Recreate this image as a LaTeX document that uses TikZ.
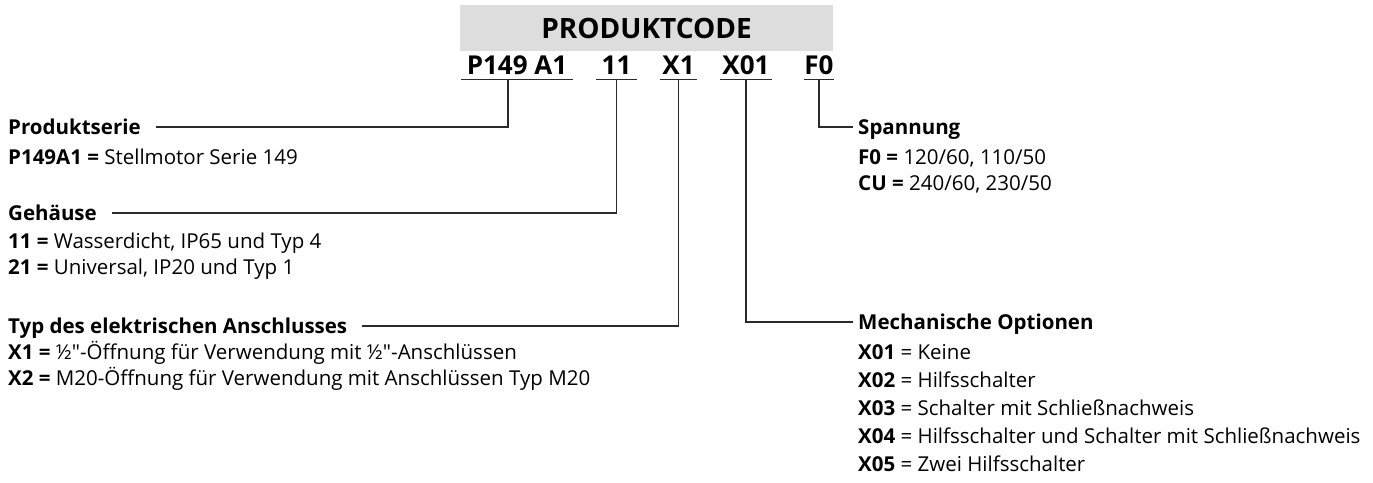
\documentclass[tikz,border=0pt]{standalone}
\usepackage{fontspec}
\setmainfont[Ligatures=TeXOff]{Open Sans}
\usetikzlibrary{positioning}
\definecolor{boxgray}{HTML}{DCDDDC}
\definecolor{linegray}{HTML}{2A2A2A}

\begin{document}
\begin{tikzpicture}[x=1pt, y=-1pt,
    code/.style={font=\fontsize{26}{30}\selectfont\bfseries, text height=18.5pt, text depth=0pt, inner xsep=0pt, inner ysep=5pt, anchor=base},
    head/.style={font=\fontsize{20.5}{24}\selectfont\bfseries, text height=14.5pt, text depth=0pt, inner sep=0pt, anchor=west},
    item/.style={font=\fontsize{20.5}{24}\selectfont, text height=14.5pt, text depth=0pt, inner sep=0pt, anchor=west},
    link/.style={draw=linegray, line width=1.3pt}]
            \useasboundingbox (0,0) rectangle (1373,482);

            \node[fill=boxgray, minimum width=373pt, minimum height=46pt, font=\fontsize{28}{32}\selectfont\bfseries] (Title) at (646.5,28) {PRODUKTCODE};

            \node[code, minimum width=112pt] (CodeP) at (517,74) {P149 A1};
            \node[code, minimum width=41pt] (CodeG) at (616.5,74) {11};
            \node[code, minimum width=37pt] (CodeA) at (678.5,74) {X1};
            \node[code, minimum width=52pt] (CodeM) at (746,74) {X01};
            \node[code, minimum width=28pt] (CodeS) at (819,74) {F0};
            \foreach \c in {CodeP, CodeG, CodeA, CodeM, CodeS}
                \draw[link] (\c.south west) -- (\c.south east);

            % left column
            \node[head] (Serie) at (8,127) {Produktserie};
            \node[item] (SerieA) at (8,157) {\textbf{P149A1 =} Stellmotor Serie 149};

            \node[head] (Gehaeuse) at (8,213) {Gehäuse};
            \node[item] (GehaeuseA) at (8,241) {\textbf{11 =} Wasserdicht, IP65 und Typ 4};
            \node[item] (GehaeuseB) at (8,267) {\textbf{21 =} Universal, IP20 und Typ 1};

            \node[head] (Anschluss) at (8,326) {Typ des elektrischen Anschlusses};
            \node[item] (AnschlussA) at (8,352) {\textbf{X1 =} ½"-Öffnung für Verwendung mit ½"-Anschlüssen};
            \node[item] (AnschlussB) at (8,378) {\textbf{X2 =} M20-Öffnung für Verwendung mit Anschlüssen Typ M20};

            % right column
            \node[head] (Spannung) at (858,127) {Spannung};
            \node[item] (SpannungA) at (858,157) {\textbf{F0 =} 120/60, 110/50};
            \node[item] (SpannungB) at (858,183) {\textbf{CU =} 240/60, 230/50};

            \node[head] (Mech) at (858,322) {Mechanische Optionen};
            \node[item] (MechA) at (858,352) {\textbf{X01} = Keine};
            \node[item] (MechB) at (858,380) {\textbf{X02} = Hilfsschalter};
            \node[item] (MechC) at (858,408) {\textbf{X03} = Schalter mit Schließnachweis};
            \node[item] (MechD) at (858,436) {\textbf{X04} = Hilfsschalter und Schalter mit Schließnachweis};
            \node[item] (MechE) at (858,464) {\textbf{X05} = Zwei Hilfsschalter};

            \draw[link] ([xshift=15pt]Serie.east) -| ([xshift=-9pt]CodeP.south);
            \draw[link] ([xshift=15pt]Gehaeuse.east) -| (CodeG.south);
            \draw[link] ([xshift=15pt]Anschluss.east) -| (CodeA.south);
            \draw[link] (CodeM.south) |- ([xshift=-5pt]Mech.west);
            \draw[link] (CodeS.south) |- ([xshift=-5pt]Spannung.west);
        \end{tikzpicture}
\end{document}
